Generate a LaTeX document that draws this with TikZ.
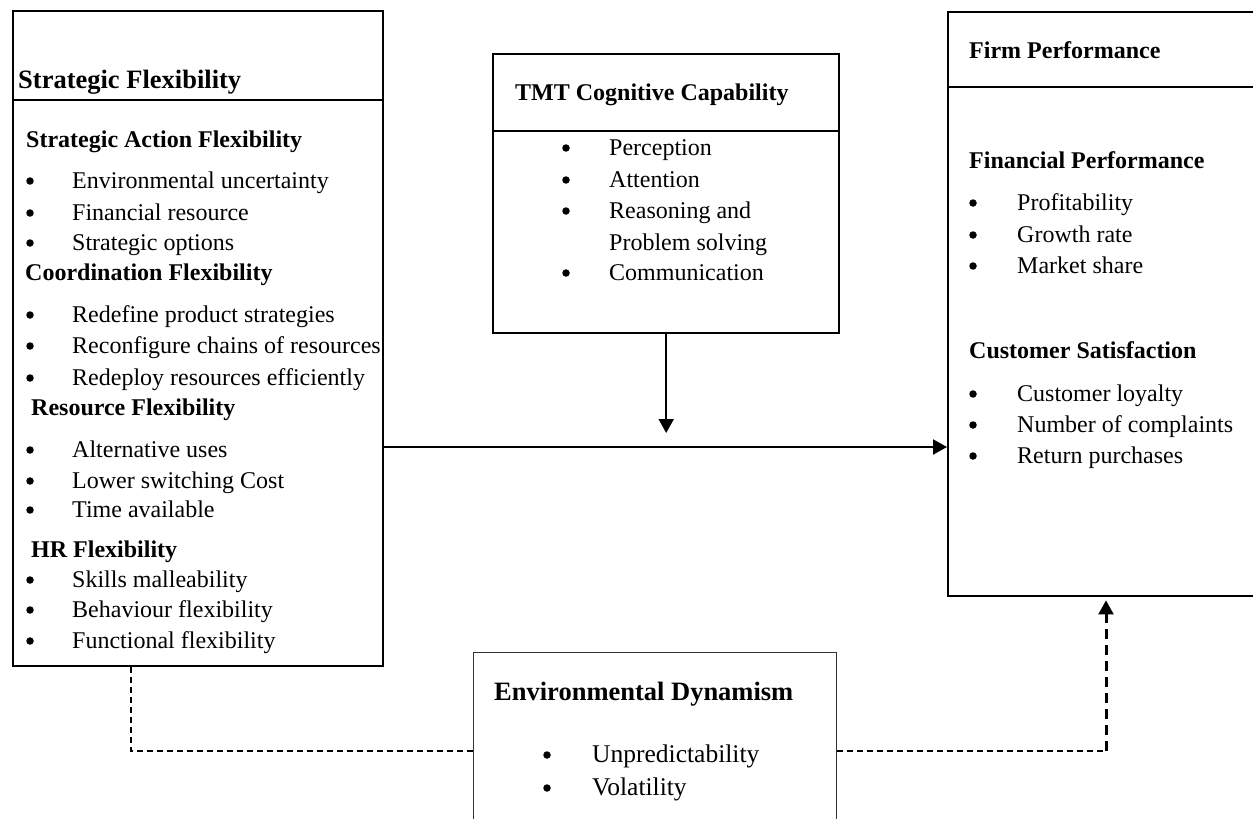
\documentclass[tikz,border=0pt]{standalone}
\usepackage{fontspec}
\setmainfont{Liberation Serif}
\usetikzlibrary{arrows.meta,calc}

% one bulleted entry: round bullet (#2b) and its text node (#2)
\newcommand\bulletline[6][\bodyfont]{%
  \node[bul] (#2b) at (#3,#5-7) {};
  \node[txt, font=#1] (#2) at (#4,#5) {#6};}
\newcommand\bodyfont{\fontsize{24}{28}\selectfont}
\newcommand\bigbody{\fontsize{25.5}{30}\selectfont}

\tikzset{
  frame/.style={draw, line width=2.4pt, inner sep=0, anchor=north west},
  lightframe/.style={draw=black!80, line width=1.3pt, inner sep=0, anchor=north west},
  rule/.style={line width=2pt},
  thinrule/.style={line width=1.2pt},
  hd/.style={anchor=base west, inner sep=0, font=\fontsize{24}{28}\selectfont\bfseries},
  bighd/.style={anchor=base west, inner sep=0, font=\fontsize{26.5}{31}\selectfont\bfseries},
  txt/.style={anchor=base west, inner sep=0},
  bul/.style={circle, fill, inner sep=0, minimum size=7.5pt},
  arr/.style={line width=2pt, -{Triangle[width=15pt,length=14pt]}},
  lightdash/.style={line width=1.2pt, dash pattern=on 6pt off 4pt},
  heavydash/.style={line width=3pt, dash pattern=on 10pt off 6pt},
}

\begin{document}
\begin{tikzpicture}[x=1pt,y=-1pt]
\useasboundingbox (0,0) rectangle (1253,819);
\clip (0,0) rectangle (1253,819);

% ---------- boxes ----------
\node[frame, minimum width=370pt, minimum height=655pt] (sf) at (12,10) {};
\draw[rule] (sf.west |- 0,100) -- (sf.east |- 0,100);

\node[frame, minimum width=346pt, minimum height=279pt] (tmt) at (492,53) {};
\draw[rule] (tmt.west |- 0,131) -- (tmt.east |- 0,131);

\node[frame, minimum width=330pt, minimum height=584pt] (fp) at (947,11) {};
\draw[thinrule] (fp.west |- 0,87) -- (fp.east |- 0,87);

\node[lightframe, minimum width=363pt, minimum height=220pt] (ed) at (473,652) {};

% ---------- Strategic Flexibility ----------
\node[bighd] (sfT) at (18,88) {Strategic Flexibility};
\node[hd] (saf) at (26,147) {Strategic Action Flexibility};
\bulletline{sa1}{30}{72}{188}{Environmental uncertainty}
\bulletline{sa2}{30}{72}{220}{Financial resource}
\bulletline{sa3}{30}{72}{250}{Strategic options}
\node[hd] (cof) at (25,280) {Coordination Flexibility};
\bulletline{co1}{30}{72}{322}{Redefine product strategies}
\bulletline{co2}{30}{72}{353}{Reconfigure chains of resources}
\bulletline{co3}{30}{72}{385}{Redeploy resources efficiently}
\node[hd] (ref) at (31,415) {Resource Flexibility};
\bulletline{re1}{30}{72}{457}{Alternative uses}
\bulletline{re2}{30}{72}{488}{Lower switching Cost}
\bulletline{re3}{30}{72}{517}{Time available}
\node[hd] (hrf) at (31,557) {HR Flexibility};
\bulletline{hr1}{30}{72}{587}{Skills malleability}
\bulletline{hr2}{30}{72}{617}{Behaviour flexibility}
\bulletline{hr3}{30}{72}{648}{Functional flexibility}

% ---------- TMT Cognitive Capability ----------
\node[hd] (tmtT) at (515,100) {TMT Cognitive Capability};
\bulletline{tm1}{566}{609}{155}{Perception}
\bulletline{tm2}{566}{609}{187}{Attention}
\bulletline{tm3}{566}{609}{218}{Reasoning and}
\node[txt, font=\bodyfont] (tm3c) at (609,250) {Problem solving};
\bulletline{tm4}{566}{609}{280}{Communication}

% ---------- Firm Performance ----------
\node[hd] (fpT) at (969,58) {Firm Performance};
\node[hd] (fin) at (969,168) {Financial Performance};
\bulletline{fi1}{973}{1017}{210}{Profitability}
\bulletline{fi2}{973}{1017}{242}{Growth rate}
\bulletline{fi3}{973}{1017}{273}{Market share}
\node[hd] (cus) at (969,358) {Customer Satisfaction};
\bulletline{cu1}{973}{1017}{401}{Customer loyalty}
\bulletline{cu2}{973}{1017}{432}{Number of complaints}
\bulletline{cu3}{973}{1017}{463}{Return purchases}

% ---------- Environmental Dynamism ----------
\node[bighd] (edT) at (494,700) {Environmental Dynamism};
\bulletline[\bigbody]{ed1}{547}{592}{762}{Unpredictability}
\bulletline[\bigbody]{ed2}{547}{592}{795}{Volatility}

% ---------- connectors ----------
\coordinate (mainY) at (0,447);
\draw[arr] (sf.east |- mainY) -- (fp.west |- mainY);
\draw[arr] (tmt.south) -- (tmt.south |- 0,433);

\coordinate (lcorner) at (131,751);
\coordinate (rcorner) at (1106,751);
\draw[lightdash] (sf.south -| lcorner) -- (lcorner) -- (ed.west |- lcorner);
\draw[lightdash] (ed.east |- rcorner) -- (rcorner);
\draw[heavydash] (rcorner) -- (1106,612);
\draw[line width=2pt, -{Triangle[width=15pt,length=14pt]}] (1106,614) -- ($(fp.south -| rcorner)+(0,3)$);
\end{tikzpicture}
\end{document}
